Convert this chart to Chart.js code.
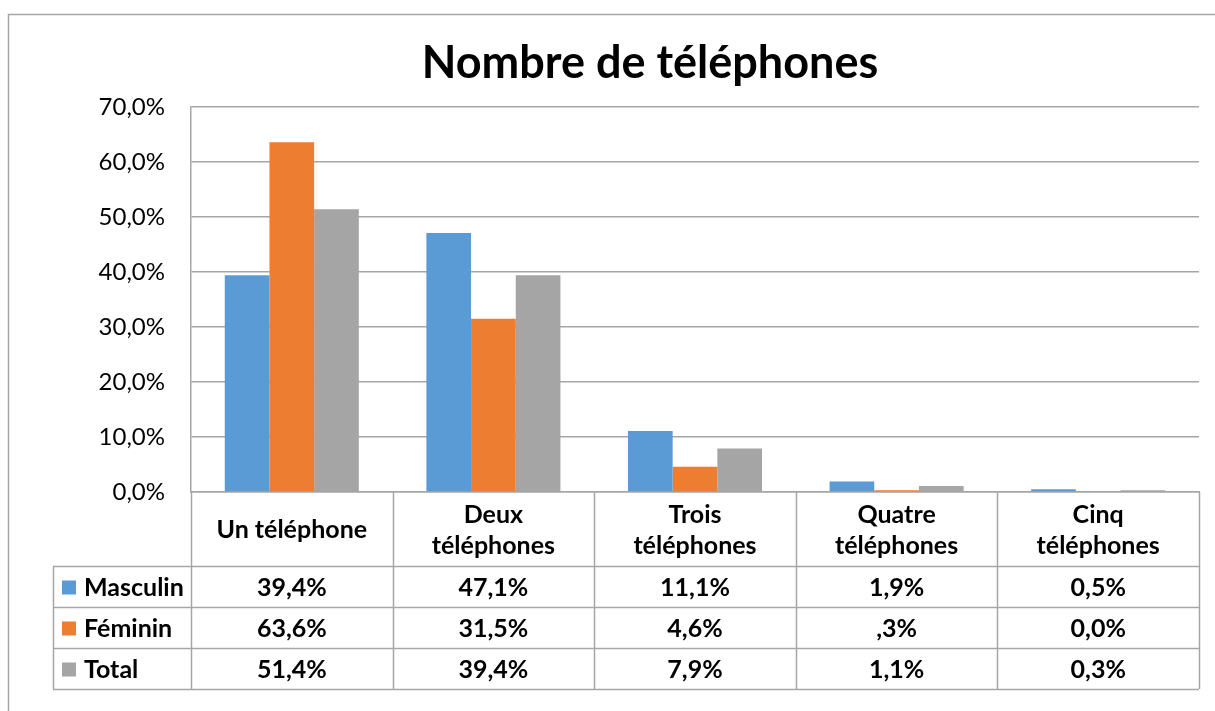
<!DOCTYPE html>
<html>
<head>
<meta charset="utf-8">
<script src="https://cdn.jsdelivr.net/npm/chart.js@4"></script>
<style>
  html, body { margin: 0; padding: 0; background: #ffffff; }
  #wrap { width: 1215px; height: 711px; position: relative; }
</style>
</head>
<body>
<div id="wrap"><canvas id="c" width="1215" height="711"></canvas></div>
<script>
// ---- Data ----
const chartTitle = 'Nombre de téléphones';
const categories = [['Un téléphone'], ['Deux', 'téléphones'], ['Trois', 'téléphones'], ['Quatre', 'téléphones'], ['Cinq', 'téléphones']];
const seriesNames = ['Masculin', 'Féminin', 'Total'];
const masculin = [39.4, 47.1, 11.1, 1.9, 0.5];
const feminin = [63.6, 31.5, 4.6, 0.3, 0.0];
const total = [51.4, 39.4, 7.9, 1.1, 0.3];
const masculinText = ['39,4%', '47,1%', '11,1%', '1,9%', '0,5%'];
const femininText = ['63,6%', '31,5%', '4,6%', ',3%', '0,0%'];
const totalText = ['51,4%', '39,4%', '7,9%', '1,1%', '0,3%'];
const yMin = 0, yMax = 70, yStep = 10;

// ---- Styles ----
const colors = ['#5B9BD5', '#ED7D31', '#A5A5A5'];
const lineColor = '#A6A6A6';
const FONT = 'Lato, "Open Sans", sans-serif';

const seriesValues = [masculin, feminin, total];
const seriesText = [masculinText, femininText, totalText];

const fmtPct = v => v.toFixed(1).replace('.', ',') + '%';

const borderPlugin = {
  id: 'outerBorder',
  beforeDraw(chart) {
    const ctx = chart.ctx;
    ctx.save();
    ctx.strokeStyle = lineColor;
    ctx.lineWidth = 1.5;
    ctx.beginPath();
    ctx.moveTo(8.5, chart.height + 5);
    ctx.lineTo(8.5, 14.5);
    ctx.lineTo(chart.width + 5, 14.5);
    ctx.stroke();
    // title (Excel centres it over the whole chart object, which extends past the right edge)
    ctx.fillStyle = '#000000';
    ctx.font = 'bold 45px ' + FONT;
    ctx.textAlign = 'center';
    ctx.textBaseline = 'middle';
    ctx.fillText(chartTitle, 650, 63);
    ctx.restore();
  }
};

const tablePlugin = {
  id: 'dataTable',
  afterDraw(chart) {
    const ctx = chart.ctx;
    const xs = chart.scales.x;
    const n = categories.length;
    const left = xs.left, right = xs.right;
    const colW = (right - left) / n;
    const top = xs.top;
    const bottom = xs.bottom;
    const rowH = 41;
    const rows = seriesNames.length;
    const headerBottom = bottom - rows * rowH;
    const legendLeft = left - 138;

    ctx.save();
    ctx.strokeStyle = lineColor;
    ctx.lineWidth = 1.5;
    ctx.beginPath();
    for (let i = 0; i <= n; i++) {
      const xx = Math.round(left + i * colW) + 0.5;
      ctx.moveTo(xx, top);
      ctx.lineTo(xx, bottom);
    }
    for (let r = 0; r <= rows; r++) {
      const yy = Math.round(headerBottom + r * rowH) + 0.5;
      ctx.moveTo(legendLeft, yy);
      ctx.lineTo(right, yy);
    }
    ctx.moveTo(legendLeft + 0.5, headerBottom);
    ctx.lineTo(legendLeft + 0.5, bottom);
    ctx.stroke();

    ctx.fillStyle = '#000000';
    ctx.textBaseline = 'middle';
    ctx.textAlign = 'center';
    ctx.font = 'bold 25px ' + FONT;
    for (let i = 0; i < n; i++) {
      const cx = xs.getPixelForValue(i);
      const lines = categories[i];
      const lh = 31;
      const cy = (top + headerBottom) / 2 + 1;
      lines.forEach((t, k) => {
        ctx.fillText(t, cx, cy + (k - (lines.length - 1) / 2) * lh);
      });
    }
    for (let r = 0; r < rows; r++) {
      const cy = headerBottom + r * rowH + rowH / 2 + 1;
      ctx.fillStyle = colors[r];
      ctx.fillRect(legendLeft + 9, cy - 7, 14, 14);
      ctx.fillStyle = '#000000';
      ctx.textAlign = 'left';
      ctx.fillText(seriesNames[r], legendLeft + 31, cy);
      ctx.textAlign = 'center';
      for (let i = 0; i < n; i++) {
        ctx.fillText(seriesText[r][i], xs.getPixelForValue(i), cy);
      }
    }
    ctx.restore();
  }
};

new Chart(document.getElementById('c'), {
  type: 'bar',
  data: {
    labels: categories,
    datasets: seriesNames.map((name, i) => ({
      label: name,
      data: seriesValues[i],
      backgroundColor: colors[i],
      borderWidth: 0,
      categoryPercentage: 0.665,
      barPercentage: 1.0
    }))
  },
  options: {
    responsive: false,
    animation: false,
    layout: { padding: { left: 0, right: 16, top: 107, bottom: 22 } },
    plugins: {
      legend: { display: false },
      tooltip: { enabled: false },
      title: { display: false }
    },
    scales: {
      x: {
        ticks: { display: false },
        grid: { display: false },
        border: { display: true, color: lineColor, width: 1.5 },
        afterFit(scale) { scale.height = 197; }
      },
      y: {
        min: yMin,
        max: yMax,
        ticks: {
          stepSize: yStep,
          color: '#000000',
          padding: 26,
          font: { family: FONT, size: 24 },
          callback: v => fmtPct(v)
        },
        grid: { color: lineColor, lineWidth: 1.5, drawTicks: false },
        border: { display: true, color: lineColor, width: 1.5 },
        afterFit(scale) { scale.width = 191; }
      }
    }
  },
  plugins: [borderPlugin, tablePlugin]
});
</script>
</body>
</html>
